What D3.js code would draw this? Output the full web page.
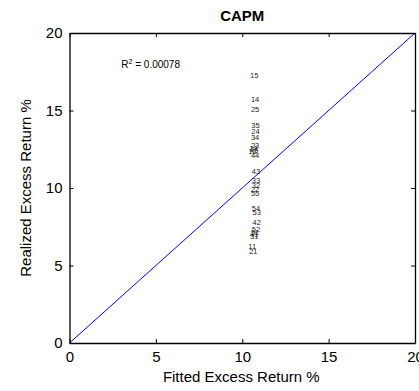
<!DOCTYPE html>
<html>
<head>
<meta charset="utf-8">
<script src="https://cdn.jsdelivr.net/npm/d3@7"></script>
<style>
  body { margin: 0; background: #fff; }
  svg { display: block; font-family: "Liberation Sans", Arial, sans-serif; }
</style>
</head>
<body>
<div id="chart"></div>
<script>
// portfolio names, fitted and realized excess returns (%)
const portfolios = ["15","14","25","35","24","34","23","13","45","12","44","43","33","32","22","55","54","53","42","52","51","41","31","11","21"];
const fitted =     [10.45,10.5,10.5,10.52,10.52,10.5,10.5,10.4,10.45,10.35,10.5,10.55,10.55,10.55,10.5,10.5,10.55,10.6,10.6,10.55,10.5,10.45,10.45,10.35,10.4];
const realized =   [17.25,15.74,15.1,14.02,13.68,13.25,12.77,12.55,12.42,12.35,12.13,11.05,10.47,10.19,9.94,9.68,8.66,8.45,7.81,7.35,7.16,7.03,6.9,6.26,5.94];
const ticks = [0, 5, 10, 15, 20];
const rsq = "0.00078";

const W = 419, H = 391;
const margin = {top: 33, right: 4, bottom: 48, left: 69.5};
const w = W - margin.left - margin.right;
const h = H - margin.top - margin.bottom;

const svg = d3.select("#chart").append("svg")
  .attr("width", W).attr("height", H);

const g = svg.append("g")
  .attr("transform", `translate(${margin.left},${margin.top})`);

const x = d3.scaleLinear().domain([0, 20]).range([0, w]);
const y = d3.scaleLinear().domain([0, 20]).range([h, 0]);

// 45 degree line
g.append("line")
  .attr("x1", x(0)).attr("y1", y(0))
  .attr("x2", x(20)).attr("y2", y(20))
  .attr("stroke", "#0000ff").attr("stroke-width", 1);

// axes, ticks pointing inward like matlab
const xAxis = g.append("g").attr("transform", `translate(0,${h})`)
  .call(d3.axisBottom(x).tickValues(ticks).tickSizeInner(-4).tickSizeOuter(0).tickPadding(8));
const yAxis = g.append("g")
  .call(d3.axisLeft(y).tickValues(ticks).tickSizeInner(-4).tickSizeOuter(0).tickPadding(7));
g.append("g")
  .call(d3.axisTop(x).tickValues(ticks).tickSizeInner(-4).tickSizeOuter(0).tickFormat(""));
g.append("g").attr("transform", `translate(${w},0)`)
  .call(d3.axisRight(y).tickValues(ticks).tickSizeInner(-4).tickSizeOuter(0).tickFormat(""));

g.selectAll(".domain").attr("stroke", "#000").attr("stroke-width", 1.3);
g.selectAll(".tick line").attr("stroke", "#000");
g.selectAll(".tick text")
  .attr("fill", "#000")
  .style("font-size", "15px")
  .style("font-family", "'Liberation Sans', Arial, sans-serif");

// point labels
g.selectAll("text.pt")
  .data(portfolios)
  .enter().append("text")
  .attr("class", "pt")
  .attr("x", (d, i) => x(fitted[i]))
  .attr("y", (d, i) => y(realized[i]))
  .attr("dy", "0.35em")
  .style("font-size", "7.5px")
  .attr("fill", "#222")
  .text(d => d);

// R^2 annotation
const r = g.append("text")
  .attr("x", x(3)).attr("y", y(18))
  .attr("dy", "0.35em")
  .style("font-size", "10px")
  .attr("fill", "#000");
r.append("tspan").text("R");
r.append("tspan").attr("dy", "-4").style("font-size", "7px").text("2");
r.append("tspan").attr("dy", "4").text(" = " + rsq);

// title and axis labels
svg.append("text")
  .attr("x", margin.left + w / 2).attr("y", 21)
  .attr("text-anchor", "middle")
  .style("font-size", "15px").style("font-weight", "bold")
  .text("CAPM");

svg.append("text")
  .attr("x", margin.left + w / 2 - 1).attr("y", 382)
  .attr("text-anchor", "middle")
  .style("font-size", "15px")
  .text("Fitted Excess Return %");

svg.append("text")
  .attr("transform", `translate(31,${margin.top + h / 2}) rotate(-90)`)
  .attr("text-anchor", "middle")
  .style("font-size", "15px")
  .text("Realized Excess Return %");
</script>
</body>
</html>
